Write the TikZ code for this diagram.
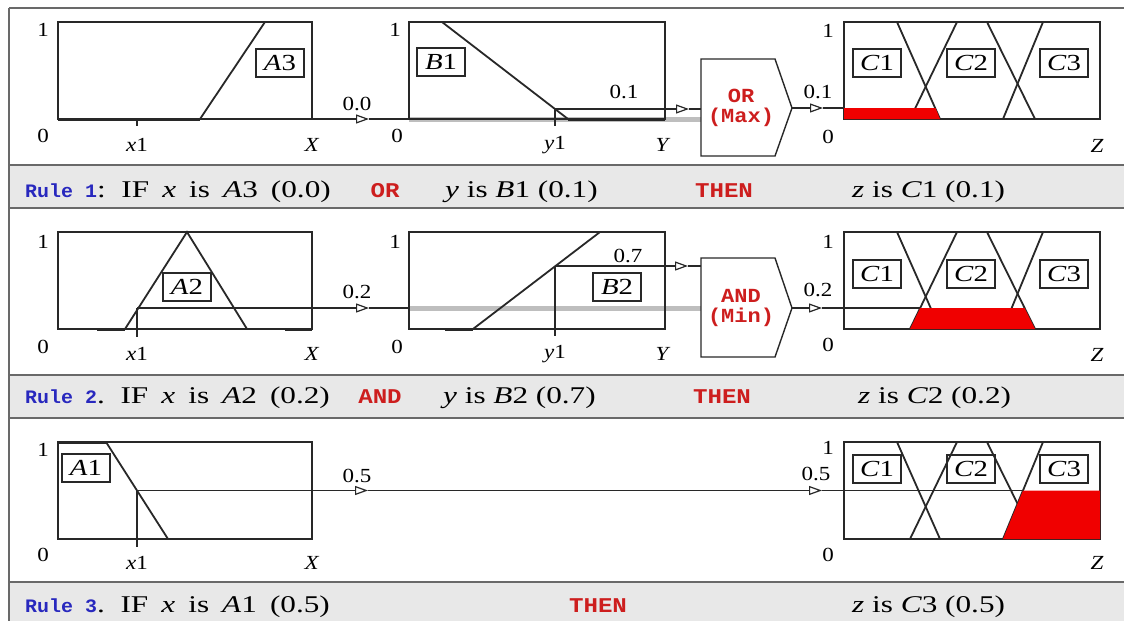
\documentclass[tikz,border=0pt]{standalone}
\usepackage{fontspec}
\setmainfont{Liberation Serif}
\setmonofont{Liberation Mono}
\usepackage{graphicx}
\usetikzlibrary{arrows.meta}

\definecolor{rulebl}{RGB}{40,40,190}
\definecolor{kwred}{RGB}{205,30,30}
\definecolor{bandgray}{RGB}{232,232,232}
\definecolor{sepgray}{RGB}{105,105,105}
\definecolor{ink}{RGB}{40,40,40}
\definecolor{passgray}{RGB}{190,190,190}
\definecolor{outred}{RGB}{240,0,0}

% horizontally widened text
\newcommand\hx[2]{\scalebox{#1}[1]{#2}}
\newcommand\rul[1]{\hx{1.05}{\fontsize{19}{19}\selectfont\ttfamily\bfseries\color{rulebl}#1}}
\newcommand\srf[1]{\hx{1.3}{\fontsize{24}{24}\selectfont #1}}
\newcommand\srfw[1]{\hx{1.3}{\fontsize{24}{24}\selectfont\spaceskip=0.42em #1}}
\newcommand\kw[1]{\hx{1.15}{\fontsize{21}{21}\selectfont\ttfamily\bfseries\color{kwred}#1}}
\newcommand\axl[1]{\hx{1.15}{\fontsize{20}{20}\selectfont #1}}
\newcommand\opl[1]{\hx{1.1}{\fontsize{20}{20}\selectfont\ttfamily\bfseries\color{kwred}#1}}

\tikzset{
  frame/.style={draw=ink,line width=1.4pt},
  mf/.style={draw=ink,line width=1.8pt},
  flat/.style={draw=ink,line width=3pt},
  tick/.style={draw=ink,line width=1.2pt},
  lab/.style={draw=ink,line width=1.2pt,minimum width=48pt,minimum height=28pt,inner sep=0pt},
  txt/.style={inner sep=0pt},
  link/.style={draw=ink,line width=1.2pt},
  tip/.style={link,-{Triangle[open,length=13pt,width=9pt,line width=1.2pt]}},
  pass/.style={draw=passgray,line width=5pt},
  sepline/.style={draw=sepgray,line width=2pt},
  opbox/.style={draw=ink,line width=1.4pt,fill=white},
}

\begin{document}
\begin{tikzpicture}[x=1pt,y=-1pt]
\useasboundingbox (0,0) rectangle (1124,621);
\fill[white] (0,0) rectangle (1124,621);

% rule bands
\fill[bandgray] (9,165) rectangle (1124,208);
\fill[bandgray] (9,375) rectangle (1124,418);
\fill[bandgray] (9,582) rectangle (1124,621);
\draw[sepline] (9,8) -- (1124,8);
\draw[sepline] (9,165) -- (1124,165);
\draw[sepline] (9,208) -- (1124,208);
\draw[sepline] (9,375) -- (1124,375);
\draw[sepline] (9,418) -- (1124,418);
\draw[sepline] (9,582) -- (1124,582);
\draw[sepline] (9,8) -- (9,621);

% ================= Rule 1 =================
\draw[pass] (409,119) -- (701,119);
% A3
\draw[frame] (58,22) rectangle (312,119);
\draw[mf] (200,119) -- (265,22) -- (312,22);
\draw[flat] (58,119) -- (200,119);
\node[lab] (labA3) at (280,63) {\hx{1.25}{\fontsize{23}{23}\selectfont\textit{A}3}};
\node[txt] (a1one) at (43,30) {\axl{1}};
\node[txt] (a1zero) at (43,136) {\axl{0}};
\node[txt] (a1x) at (137,145) {\axl{\textit{x}1}};
\node[txt] (a1X) at (312,145) {\axl{\textit{X}}};
\coordinate (r1x1) at (137,119);
\coordinate (r1x1b) at (137,126);
\draw[tick] (r1x1) -- (r1x1b);
% B1
\draw[frame] (409,22) rectangle (665,119);
\draw[mf] (442,22) -- (568,119);
\draw[flat] (568,119) -- (665,119);
\node[lab] (labB1) at (441,62) {\hx{1.25}{\fontsize{23}{23}\selectfont\textit{B}1}};
\node[txt] (b1one) at (395,30) {\axl{1}};
\node[txt] (b1zero) at (397,136) {\axl{0}};
\node[txt] (b1y) at (555,145) {\axl{\textit{y}1}};
\node[txt] (b1Y) at (663,145) {\axl{\textit{Y}}};
\coordinate (r1y1) at (555,109);
\coordinate (r1y1b) at (555,126);
\draw[tick] (r1y1) -- (r1y1b);
% links into the operator
\coordinate (r1atip) at (369,119);
\coordinate (r1bin) at (409,119);
\draw[tip] (r1x1) -- (r1atip);
\draw[link] (r1atip) -- (r1bin);
\node[txt] (v00) at (357,104) {\axl{0.0}};
\coordinate (r1btip) at (689,109);
\coordinate (r1opin) at (701,109);
\draw[tip] (r1y1) -- (r1btip);
\draw[link] (r1btip) -- (r1opin);
\node[txt] (v01a) at (624,92) {\axl{0.1}};
% OR (Max)
\draw[opbox] (701,59) -- (775,59) -- (792,108) -- (775,156) -- (701,156) -- cycle;
\node[txt,align=center] (orop) at (741,108) {\opl{OR}\\[4pt]\opl{(Max)}};
\coordinate (r1opout) at (792,108);
\coordinate (r1ctip) at (823,108);
\coordinate (r1cin) at (844,108);
\draw[tip] (r1opout) -- (r1ctip);
\draw[link] (r1ctip) -- (r1cin);
\node[txt] (v01b) at (818,92) {\axl{0.1}};
% C
\draw[frame] (844,22) rectangle (1100,119);
\draw[mf] (844,22) -- (897,22) -- (940,119);
\draw[mf] (910,119) -- (957,22) -- (987,22) -- (1035,119);
\draw[mf] (1003,119) -- (1043,22) -- (1100,22);
\fill[outred] (844,108) -- (935.5,108) -- (940,119) -- (844,119) -- cycle;
\node[lab] (c1a) at (877,63) {\hx{1.25}{\fontsize{23}{23}\selectfont\textit{C}1}};
\node[lab] (c2a) at (971,63) {\hx{1.25}{\fontsize{23}{23}\selectfont\textit{C}2}};
\node[lab] (c3a) at (1064,63) {\hx{1.25}{\fontsize{23}{23}\selectfont\textit{C}3}};
\node[txt] (c1one) at (828,31) {\axl{1}};
\node[txt] (c1zero) at (828,137) {\axl{0}};
\node[txt] (c1Z) at (1097,146) {\axl{\textit{Z}}};

% rule 1 text
\node[txt,anchor=base west] (t1a) at (25,197) {\rul{Rule 1}\srfw{: IF \textit{x} is \textit{A}3 (0.0)}};
\node[txt,anchor=base] (t1b) at (385,197) {\kw{OR}};
\node[txt,anchor=base west] (t1c) at (445,197) {\srf{\textit{y} is \textit{B}1 (0.1)}};
\node[txt,anchor=base] (t1d) at (724,197) {\kw{THEN}};
\node[txt,anchor=base west] (t1e) at (852,197) {\srf{\textit{z} is \textit{C}1 (0.1)}};

% ================= Rule 2 =================
\draw[pass] (409,308) -- (701,308);
% A2
\draw[frame] (58,232) rectangle (312,329);
\draw[mf] (125,329) -- (187,232) -- (247,329);
\draw[flat] (97,329) -- (125,329);
\draw[flat] (285,329) -- (312,329);
\node[lab] (labA2) at (187,287) {\hx{1.25}{\fontsize{23}{23}\selectfont\textit{A}2}};
\node[txt] (a2one) at (43,242) {\axl{1}};
\node[txt] (a2zero) at (43,347) {\axl{0}};
\node[txt] (a2x) at (137,354) {\axl{\textit{x}1}};
\node[txt] (a2X) at (312,354) {\axl{\textit{X}}};
\coordinate (r2x1) at (137,308);
\coordinate (r2x1b) at (137,337);
\draw[tick] (r2x1) -- (r2x1b);
% B2
\draw[frame] (409,232) rectangle (665,329);
\draw[mf] (473,329) -- (600,232);
\draw[flat] (445,329) -- (473,329);
\node[lab] (labB2) at (617,287) {\hx{1.25}{\fontsize{23}{23}\selectfont\textit{B}2}};
\node[txt] (b2one) at (395,242) {\axl{1}};
\node[txt] (b2zero) at (397,347) {\axl{0}};
\node[txt] (b2y) at (555,354) {\axl{\textit{y}1}};
\node[txt] (b2Y) at (663,354) {\axl{\textit{Y}}};
\coordinate (r2y1) at (555,266);
\coordinate (r2y1b) at (555,336);
\draw[tick] (r2y1) -- (r2y1b);
% links into the operator
\coordinate (r2atip) at (369,308);
\coordinate (r2bin) at (409,308);
\draw[tip] (r2x1) -- (r2atip);
\draw[link] (r2atip) -- (r2bin);
\node[txt] (v02a) at (357,292) {\axl{0.2}};
\coordinate (r2btip) at (688,266);
\coordinate (r2opin) at (701,266);
\draw[tip] (r2y1) -- (r2btip);
\draw[link] (r2btip) -- (r2opin);
\node[txt] (v07) at (628,256) {\axl{0.7}};
% AND (Min)
\draw[opbox] (701,258) -- (775,258) -- (792,308) -- (775,357) -- (701,357) -- cycle;
\node[txt,align=center] (andop) at (741,308) {\opl{AND}\\[4pt]\opl{(Min)}};
\coordinate (r2opout) at (792,308);
\coordinate (r2ctip) at (822,308);
\coordinate (r2cin) at (844,308);
\coordinate (r2cut) at (921,308);
\draw[tip] (r2opout) -- (r2ctip);
\draw[link] (r2ctip) -- (r2cin);
\node[txt] (v02b) at (818,290) {\axl{0.2}};
% C
\draw[frame] (844,232) rectangle (1100,329);
\draw[mf] (844,232) -- (897,232) -- (940,329);
\draw[mf] (910,329) -- (957,232) -- (987,232) -- (1035,329);
\draw[mf] (1003,329) -- (1043,232) -- (1100,232);
\draw[link] (r2cin) -- (r2cut);
\fill[outred] (910,329) -- (920.2,308) -- (1024.6,308) -- (1035,329) -- cycle;
\node[lab] (c1b) at (877,274) {\hx{1.25}{\fontsize{23}{23}\selectfont\textit{C}1}};
\node[lab] (c2b) at (971,274) {\hx{1.25}{\fontsize{23}{23}\selectfont\textit{C}2}};
\node[lab] (c3b) at (1064,274) {\hx{1.25}{\fontsize{23}{23}\selectfont\textit{C}3}};
\node[txt] (c2one) at (828,242) {\axl{1}};
\node[txt] (c2zero) at (828,345) {\axl{0}};
\node[txt] (c2Z) at (1097,355) {\axl{\textit{Z}}};

% rule 2 text
\node[txt,anchor=base west] (t2a) at (25,403) {\rul{Rule 2}\srfw{. IF \textit{x} is \textit{A}2 (0.2)}};
\node[txt,anchor=base] (t2b) at (380,403) {\kw{AND}};
\node[txt,anchor=base west] (t2c) at (443,403) {\srf{\textit{y} is \textit{B}2 (0.7)}};
\node[txt,anchor=base] (t2d) at (722,403) {\kw{THEN}};
\node[txt,anchor=base west] (t2e) at (858,403) {\srf{\textit{z} is \textit{C}2 (0.2)}};

% ================= Rule 3 =================
% A1
\draw[frame] (58,442) rectangle (312,539);
\draw[mf] (106,442) -- (168,539);
\draw[flat] (58,442) -- (106,442);
\node[lab] (labA1) at (86,468) {\hx{1.25}{\fontsize{23}{23}\selectfont\textit{A}1}};
\node[txt] (a3one) at (43,450) {\axl{1}};
\node[txt] (a3zero) at (43,555) {\axl{0}};
\node[txt] (a3x) at (137,563) {\axl{\textit{x}1}};
\node[txt] (a3X) at (312,563) {\axl{\textit{X}}};
\coordinate (r3x1) at (137,490.5);
\coordinate (r3x1b) at (137,547);
\draw[tick] (r3x1) -- (r3x1b);
% single path straight to the consequent
\coordinate (r3atip) at (368,490.5);
\coordinate (r3ctip) at (822,490.5);
\coordinate (r3cin) at (844,490.5);
\coordinate (r3cut) at (1023,490.5);
\draw[tip] (r3x1) -- (r3atip);
\draw[tip] (r3atip) -- (r3ctip);
\draw[link] (r3ctip) -- (r3cin);
\node[txt] (v05a) at (357,476) {\axl{0.5}};
\node[txt] (v05b) at (816,474) {\axl{0.5}};
% C
\draw[frame] (844,442) rectangle (1100,539);
\draw[mf] (844,442) -- (897,442) -- (940,539);
\draw[mf] (910,539) -- (957,442) -- (987,442) -- (1035,539);
\draw[mf] (1003,539) -- (1043,442) -- (1100,442);
\draw[link] (r3cin) -- (r3cut);
\fill[outred] (1003,539) -- (1023,490.5) -- (1100,490.5) -- (1100,539) -- cycle;
\node[lab] (c1c) at (877,469) {\hx{1.25}{\fontsize{23}{23}\selectfont\textit{C}1}};
\node[lab] (c2c) at (971,469) {\hx{1.25}{\fontsize{23}{23}\selectfont\textit{C}2}};
\node[lab] (c3c) at (1064,469) {\hx{1.25}{\fontsize{23}{23}\selectfont\textit{C}3}};
\node[txt] (c3one) at (828,448) {\axl{1}};
\node[txt] (c3zero) at (828,555) {\axl{0}};
\node[txt] (c3Z) at (1097,563) {\axl{\textit{Z}}};

% rule 3 text
\node[txt,anchor=base west] (t3a) at (25,612) {\rul{Rule 3}\srfw{. IF \textit{x} is \textit{A}1 (0.5)}};
\node[txt,anchor=base] (t3d) at (598,612) {\kw{THEN}};
\node[txt,anchor=base west] (t3e) at (852,612) {\srf{\textit{z} is \textit{C}3 (0.5)}};
\end{tikzpicture}
\end{document}
